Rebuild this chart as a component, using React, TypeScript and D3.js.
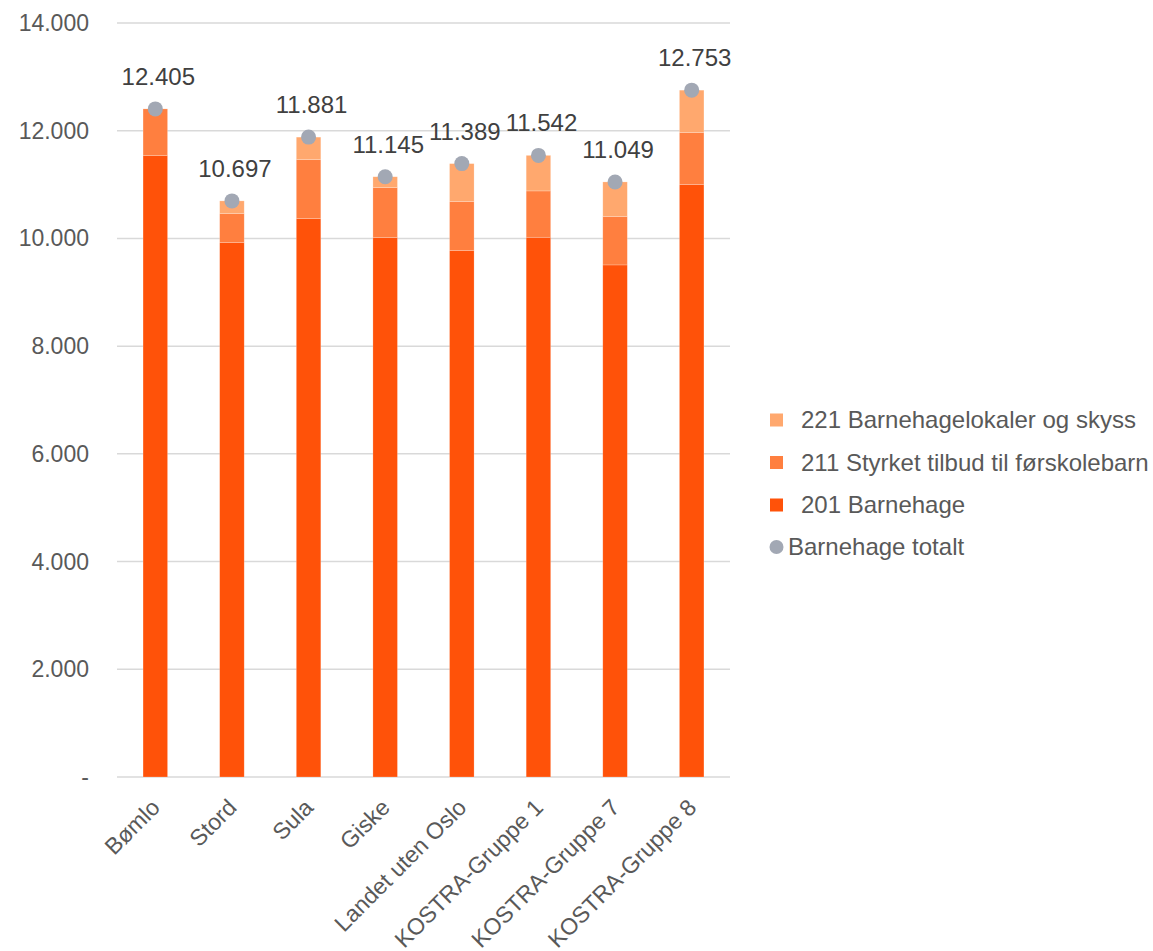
import React from "react";
import * as d3 from "d3";

const categories = ["Bømlo", "Stord", "Sula", "Giske", "Landet uten Oslo", "KOSTRA-Gruppe 1", "KOSTRA-Gruppe 7", "KOSTRA-Gruppe 8"];
const s201 = [11538, 9922, 10368, 10015, 9774, 10022, 9508, 11000];
const s211 = [867, 539, 1096, 929, 910, 860, 897, 966];
const s221 = [0, 236, 417, 201, 705, 660, 644, 787];
const totals = [12405, 10697, 11881, 11145, 11389, 11542, 11049, 12753];
const yTicks = [0, 2000, 4000, 6000, 8000, 10000, 12000, 14000];

const seriesNames = ["221 Barnehagelokaler og skyss", "211 Styrket tilbud til førskolebarn", "201 Barnehage"];
const colors = { s221: "#FFA86E", s211: "#FF7F3F", s201: "#FF5209", dot: "#A2A8B4" };

const W = 1153, H = 951;
const plot = { left: 117, right: 730, top: 23, bottom: 777 };
const FONT = "'Liberation Sans', Arial, sans-serif";

const fmt = (v: number) => (v === 0 ? "-" : d3.format(",")(v).replace(/,/g, "."));

export default function App() {
  const x = d3.scaleBand<string>().domain(categories).range([plot.left, plot.right]).paddingInner(0.68).paddingOuter(0.34);
  const y = d3.scaleLinear().domain([0, 14000]).range([plot.bottom, plot.top]);
  const bw = x.bandwidth();

  const stacks = categories.map((c, i) => {
    const segs = [
      { v: s201[i], color: colors.s201 },
      { v: s211[i], color: colors.s211 },
      { v: s221[i], color: colors.s221 },
    ];
    let acc = 0;
    return segs.map((s) => {
      const y0 = acc;
      acc += s.v;
      return { ...s, y0, y1: acc };
    });
  });

  return (
    <svg width={W} height={H} style={{ position: "absolute", left: 0, top: 0, background: "#fff" }} fontFamily={FONT}>
      {yTicks.map((t) => (
        <g key={t}>
          <line x1={plot.left} x2={plot.right} y1={y(t)} y2={y(t)} stroke="#D9D9D9" strokeWidth={1.5} />
          <text x={89} y={y(t)} dy="0.35em" textAnchor="end" fontSize={23} fill="#595959">
            {fmt(t)}
          </text>
        </g>
      ))}
      {stacks.map((segs, i) => (
        <g key={categories[i]}>
          {segs.map((s, j) =>
            s.v > 0 ? (
              <rect key={j} x={x(categories[i])!} width={bw} y={y(s.y1)} height={y(s.y0) - y(s.y1)} fill={s.color} stroke="#fff" strokeOpacity={0.35} strokeWidth={0.6} />
            ) : null
          )}
        </g>
      ))}
      {totals.map((t, i) => {
        const cx = x(categories[i])! + bw / 2;
        return (
          <g key={"t" + i}>
            <circle cx={cx} cy={y(t)} r={7.5} fill={colors.dot} />
            <text x={cx + 3} y={y(t) - 24} textAnchor="middle" fontSize={24} fill="#404040">
              {fmt(t)}
            </text>
          </g>
        );
      })}
      {categories.map((c) => {
        const cx = x(c)! + bw / 2 + 6;
        const ty = 809;
        return (
          <text key={c} transform={`translate(${cx},${ty}) rotate(-45)`} textAnchor="end" fontSize={23} fill="#595959">
            {c}
          </text>
        );
      })}
      {seriesNames.map((n, i) => {
        const cy = 420 + i * 42.5;
        const col = [colors.s221, colors.s211, colors.s201][i];
        return (
          <g key={n}>
            <rect x={770} y={cy - 6.5} width={13} height={13} fill={col} />
            <text x={801} y={cy} dy="0.35em" fontSize={24} fill="#595959">
              {n}
            </text>
          </g>
        );
      })}
      <circle cx={776.5} cy={547} r={7} fill={colors.dot} />
      <text x={788} y={547} dy="0.35em" fontSize={24} fill="#595959">
        Barnehage totalt
      </text>
    </svg>
  );
}
